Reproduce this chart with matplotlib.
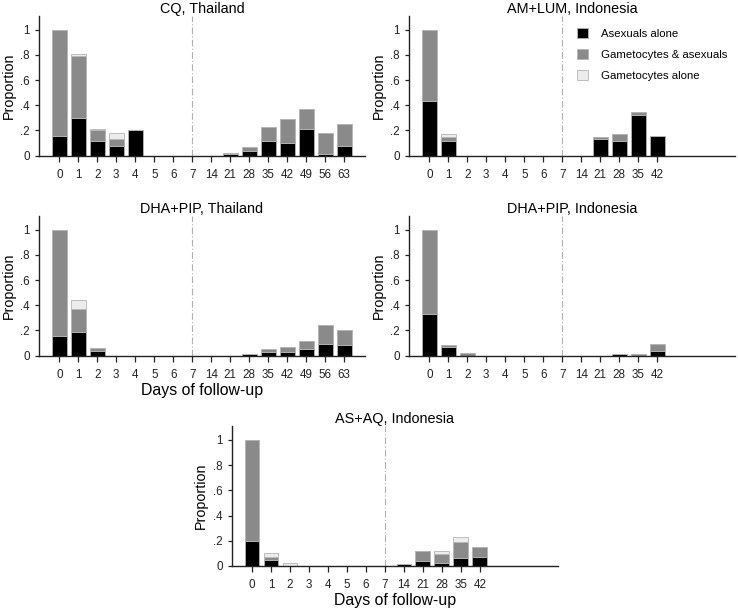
import matplotlib
matplotlib.use("Agg")
import matplotlib.pyplot as plt
from matplotlib.patches import Patch

plt.rcParams['font.family'] = ['Liberation Sans', 'DejaVu Sans']

# follow-up days shown on the x axis
days_63 = ["0", "1", "2", "3", "4", "5", "6", "7", "14", "21", "28", "35", "42", "49", "56", "63"]
days_42 = ["0", "1", "2", "3", "4", "5", "6", "7", "14", "21", "28", "35", "42"]

# CQ, Thailand
cq_th_asex = [0.16, 0.30, 0.12, 0.08, 0.20, 0, 0, 0, 0, 0.01, 0.04, 0.12, 0.10, 0.21, 0.016, 0.077]
cq_th_both = [0.84, 0.49, 0.08, 0.055, 0, 0, 0, 0, 0, 0.01, 0.029, 0.11, 0.19, 0.16, 0.164, 0.173]
cq_th_gam = [0, 0.02, 0.015, 0.048, 0, 0, 0, 0, 0, 0, 0, 0, 0, 0, 0, 0]

# AM+LUM, Indonesia
al_id_asex = [0.434, 0.116, 0, 0, 0, 0, 0, 0, 0, 0.13, 0.12, 0.325, 0.16]
al_id_both = [0.566, 0.034, 0, 0, 0, 0, 0, 0, 0, 0.015, 0.05, 0.025, 0]
al_id_gam = [0, 0.025, 0, 0, 0, 0, 0, 0, 0, 0, 0, 0, 0]

# DHA+PIP, Thailand
dp_th_asex = [0.153, 0.19, 0.04, 0, 0, 0, 0, 0, 0, 0, 0.013, 0.03, 0.026, 0.056, 0.095, 0.087]
dp_th_both = [0.847, 0.18, 0.023, 0, 0, 0, 0, 0, 0, 0, 0, 0.02, 0.043, 0.06, 0.148, 0.119]
dp_th_gam = [0, 0.07, 0, 0, 0, 0, 0, 0, 0, 0, 0, 0, 0, 0, 0, 0]

# DHA+PIP, Indonesia
dp_id_asex = [0.328, 0.071, 0, 0, 0, 0, 0, 0, 0, 0, 0.016, 0, 0.034]
dp_id_both = [0.672, 0.011, 0.02, 0, 0, 0, 0, 0, 0, 0, 0, 0.016, 0.061]
dp_id_gam = [0, 0, 0, 0, 0, 0, 0, 0, 0, 0, 0, 0, 0]

# AS+AQ, Indonesia
aa_id_asex = [0.196, 0.048, 0, 0, 0, 0, 0, 0, 0.016, 0.04, 0.024, 0.066, 0.074]
aa_id_both = [0.804, 0.026, 0, 0, 0, 0, 0, 0, 0, 0.08, 0.074, 0.127, 0.079]
aa_id_gam = [0, 0.026, 0.021, 0, 0, 0, 0, 0, 0, 0, 0.024, 0.037, 0]

c_asex = "#000000"
c_both = "#8a8a8a"
c_gam = "#ececec"
edge = "#b4b4b4"

fig = plt.figure(figsize=(7.38, 6.11), dpi=100)

W, H = 738, 611


def make_ax(left_px, bottom_px):
    return fig.add_axes([left_px / W, (H - bottom_px) / H, 326 / W, 140 / H])


def panel(ax, title, days, asex, both, gam, xlabel=False):
    x = list(range(len(days)))
    bot2 = [a + b for a, b in zip(asex, both)]
    ax.bar(x, asex, width=0.78, color=c_asex, edgecolor=edge, linewidth=0.6)
    ax.bar(x, both, width=0.78, bottom=asex, color=c_both, edgecolor=edge, linewidth=0.6)
    ax.bar(x, gam, width=0.78, bottom=bot2, color=c_gam, edgecolor=edge, linewidth=0.6)
    ax.axvline(7, color="#b0b0b0", linestyle=(0, (6, 2, 1, 2)), linewidth=0.8, zorder=0)
    ax.set_xlim(-1.07, 16.1)
    ax.set_ylim(0, 1.11)
    ax.set_xticks(x)
    ax.set_xticklabels(days)
    ax.set_yticks([0, 0.2, 0.4, 0.6, 0.8, 1.0])
    ax.set_yticklabels(["0", ".2", ".4", ".6", ".8", "1"])
    for s in ["top", "right"]:
        ax.spines[s].set_visible(False)
    for s in ["left", "bottom"]:
        ax.spines[s].set_linewidth(1.0)
        ax.spines[s].set_color("#222222")
    ax.tick_params(axis="x", length=4.3, width=0.9, pad=5, labelsize=8.4, colors="#222222")
    ax.tick_params(axis="y", length=3, width=0.9, pad=3.5, labelsize=8.4, colors="#222222")
    ax.set_title(title, fontsize=10.4, pad=2)
    ax.set_ylabel("Proportion", fontsize=10.3)
    ax.yaxis.set_label_coords(-0.072, 0.5)
    if xlabel:
        ax.set_xlabel("Days of follow-up", fontsize=11.4)
        ax.xaxis.set_label_coords(0.5, -0.195)


ax1 = make_ax(39, 155.7)
panel(ax1, "CQ, Thailand", days_63, cq_th_asex, cq_th_both, cq_th_gam)

ax2 = make_ax(409, 155.7)
panel(ax2, "AM+LUM, Indonesia", days_42, al_id_asex, al_id_both, al_id_gam)

ax3 = make_ax(39, 355.7)
panel(ax3, "DHA+PIP, Thailand", days_63, dp_th_asex, dp_th_both, dp_th_gam, xlabel=True)

ax4 = make_ax(409, 355.7)
panel(ax4, "DHA+PIP, Indonesia", days_42, dp_id_asex, dp_id_both, dp_id_gam)

ax5 = make_ax(231.7, 566)
panel(ax5, "AS+AQ, Indonesia", days_42, aa_id_asex, aa_id_both, aa_id_gam, xlabel=True)

handles = [
    Patch(facecolor=c_asex, edgecolor=edge, linewidth=0.6, label="Asexuals alone"),
    Patch(facecolor=c_both, edgecolor=edge, linewidth=0.6, label="Gametocytes & asexuals"),
    Patch(facecolor=c_gam, edgecolor=edge, linewidth=0.6, label="Gametocytes alone"),
]
ax2.legend(handles=handles, loc="upper left", bbox_to_anchor=(0.515, 0.91), frameon=False,
           fontsize=8.2, handlelength=1.0, handleheight=1.0, handletextpad=1.15,
           labelspacing=0.85, borderpad=0, borderaxespad=0)

fig.savefig("out.png", dpi=100)
